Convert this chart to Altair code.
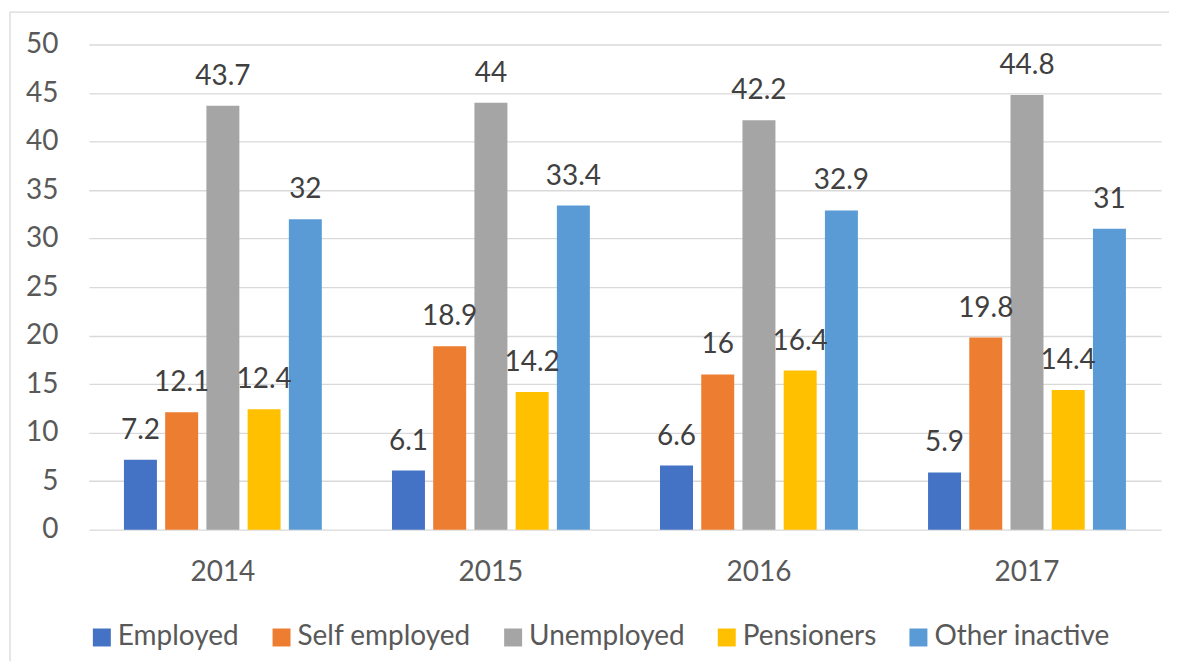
import altair as alt
import pandas as pd

years = ["2014", "2015", "2016", "2017"]
series = ["Employed", "Self employed", "Unemployed", "Pensioners", "Other inactive"]
employed = [7.2, 6.1, 6.6, 5.9]
self_employed = [12.1, 18.9, 16, 19.8]
unemployed = [43.7, 44, 42.2, 44.8]
pensioners = [12.4, 14.2, 16.4, 14.4]
other_inactive = [32, 33.4, 32.9, 31]
colors = ["#4472C4", "#ED7D31", "#A5A5A5", "#FFC000", "#5B9BD5"]
y_ticks = [0, 5, 10, 15, 20, 25, 30, 35, 40, 45, 50]

rows = []
for s, vals in zip(series, [employed, self_employed, unemployed, pensioners, other_inactive]):
    for yr, v in zip(years, vals):
        rows.append({"year": yr, "series": s, "value": v, "label": f"{v:g}"})
df = pd.DataFrame(rows)

W, H = 1074, 486
FONT = "Lato"
FS = 28
AX = "#595959"
GRID = "#D9D9D9"

xscale = alt.Scale(paddingInner=0.231, paddingOuter=0.1155)
xoscale = alt.Scale(paddingInner=0.2, paddingOuter=0.1)
yscale = alt.Scale(domain=[0, 50])

x_enc = alt.X("year:N", scale=xscale, sort=years,
              axis=alt.Axis(title=None, labelAngle=0, domain=False, ticks=False,
                            labelPadding=29, labelFontSize=FS, labelColor=AX,
                            labelFont=FONT, grid=False))
y_enc = alt.Y("value:Q", scale=yscale,
              axis=alt.Axis(title=None, values=y_ticks, domain=False, ticks=False,
                            labelPadding=31, labelFontSize=FS, labelColor=AX,
                            labelFont=FONT, gridColor=GRID, gridWidth=1.3))
xo = alt.XOffset("series:N", sort=series, scale=xoscale)
color = alt.Color("series:N", sort=series,
                  scale=alt.Scale(domain=series, range=colors),
                  legend=alt.Legend(title=None, orient="none", direction="horizontal",
                                    legendX=-1, legendY=580, symbolType="square",
                                    symbolSize=324, symbolStrokeWidth=0,
                                    labelFontSize=FS, labelFont=FONT, labelColor=AX,
                                    labelOffset=2, columnPadding=28, padding=0,
                                    labelLimit=400))

bars = alt.Chart(df).mark_bar().encode(x=x_enc, xOffset=xo, y=y_enc, color=color)

labels = alt.Chart(df).mark_text(dy=-21, baseline="alphabetic", fontSize=FS,
                                 font=FONT, color="#404040").encode(
    x=x_enc, xOffset=xo, y=y_enc, text="label:N")

one = alt.Data(values=[{"k": 1}])
border_top = alt.Chart(one).mark_rule(color=GRID, strokeWidth=1.3).encode(
    x=alt.value(-79), x2=alt.value(1082), y=alt.value(-32.5))
border_left = alt.Chart(one).mark_rule(color=GRID, strokeWidth=1.3).encode(
    x=alt.value(-79), y=alt.value(-32.5), y2=alt.value(618))

chart = alt.layer(border_top, border_left, bars, labels).properties(
    width=W, height=H, padding={"left": 1, "top": 2, "right": 0, "bottom": 0}
).configure_view(stroke=None)

chart.save("out.html", embed_options={"renderer": "svg", "actions": False})
